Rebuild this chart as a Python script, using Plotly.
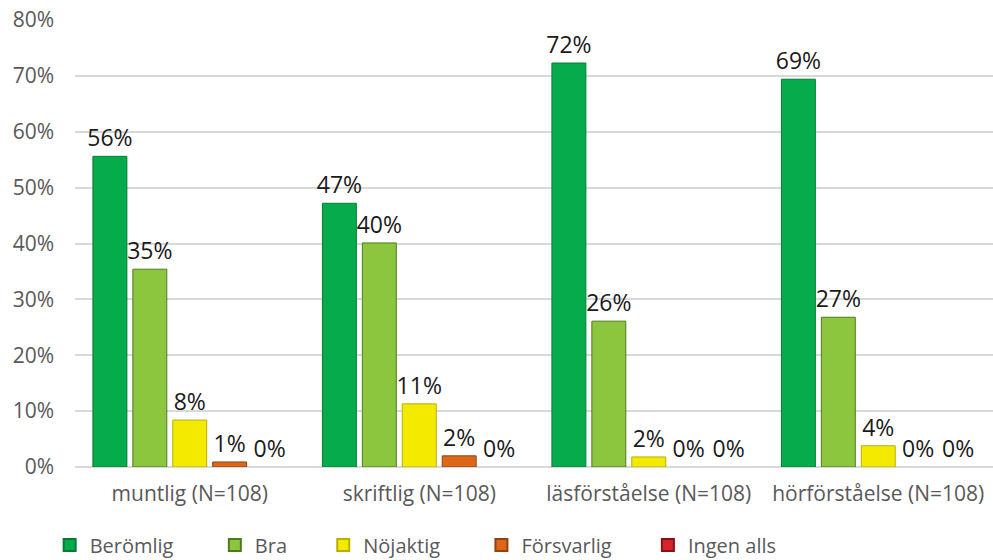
import plotly.graph_objects as go

categories = ["muntlig (N=108)", "skriftlig (N=108)", "läsförståelse (N=108)", "hörförståelse (N=108)"]
series_names = ["Berömlig", "Bra", "Nöjaktig", "Försvarlig", "Ingen alls"]
beromlig = [0.556, 0.472, 0.723, 0.694]
bra = [0.354, 0.401, 0.261, 0.268]
nojaktig = [0.084, 0.113, 0.018, 0.038]
forsvarlig = [0.009, 0.020, 0.0, 0.0]
ingen_alls = [0.0, 0.0, 0.0, 0.0]
series_values = [beromlig, bra, nojaktig, forsvarlig, ingen_alls]
y_ticks = [0, 0.1, 0.2, 0.3, 0.4, 0.5, 0.6, 0.7, 0.8]

colors = ["#06AC4C", "#8CC63F", "#F3EA00", "#DE6619", "#D8232A"]
edges = ["#067A34", "#4E7A1E", "#B8B000", "#8E4310", "#8A1015"]
pads = [7, 6, 7, 6, 0]

FONT = "Open Sans"

fig = go.Figure()
for name, vals, c, e, p in zip(series_names, series_values, colors, edges, pads):
    fig.add_trace(go.Bar(
        name=name + "\u00a0" * p,
        x=categories,
        y=vals,
        marker=dict(color=c, line=dict(color=e, width=[1 if v > 0 else 0 for v in vals])),
        text=[f"{round(v*100):.0f}%" for v in vals],
        textposition="outside",
        constraintext="none",
        textfont=dict(family=FONT, size=23, color="#1a1a1a"),
        cliponaxis=False,
    ))

fig.update_layout(
    width=993, height=560,
    margin=dict(l=75, r=0, t=20, b=93, autoexpand=False),
    paper_bgcolor="white", plot_bgcolor="white",
    barmode="group",
    bargap=0.13, bargroupgap=0.15,
    font=dict(family=FONT, size=20, color="#595959"),
    showlegend=True,
    legend=dict(
        orientation="h",
        xref="container", x=0.05, xanchor="left",
        yref="container", y=0.027, yanchor="middle",
        font=dict(family=FONT, size=20, color="#595959"),
        itemsizing="constant",
    ),
)
fig.update_xaxes(
    showgrid=False, showline=False, ticks="",
    tickfont=dict(family=FONT, size=21, color="#595959"),
    ticklabelstandoff=12, automargin=False,
)
fig.update_yaxes(
    range=[0, 0.8], tickvals=y_ticks, tickformat=".0%",
    showgrid=True, gridcolor="#D9D9D9", gridwidth=1.5,
    zeroline=True, zerolinecolor="#D9D9D9", zerolinewidth=1.5,
    showline=False, ticks="",
    tickfont=dict(family=FONT, size=21, color="#595959"),
    ticklabelstandoff=20, automargin=False,
)

fig.write_html("out.html")
